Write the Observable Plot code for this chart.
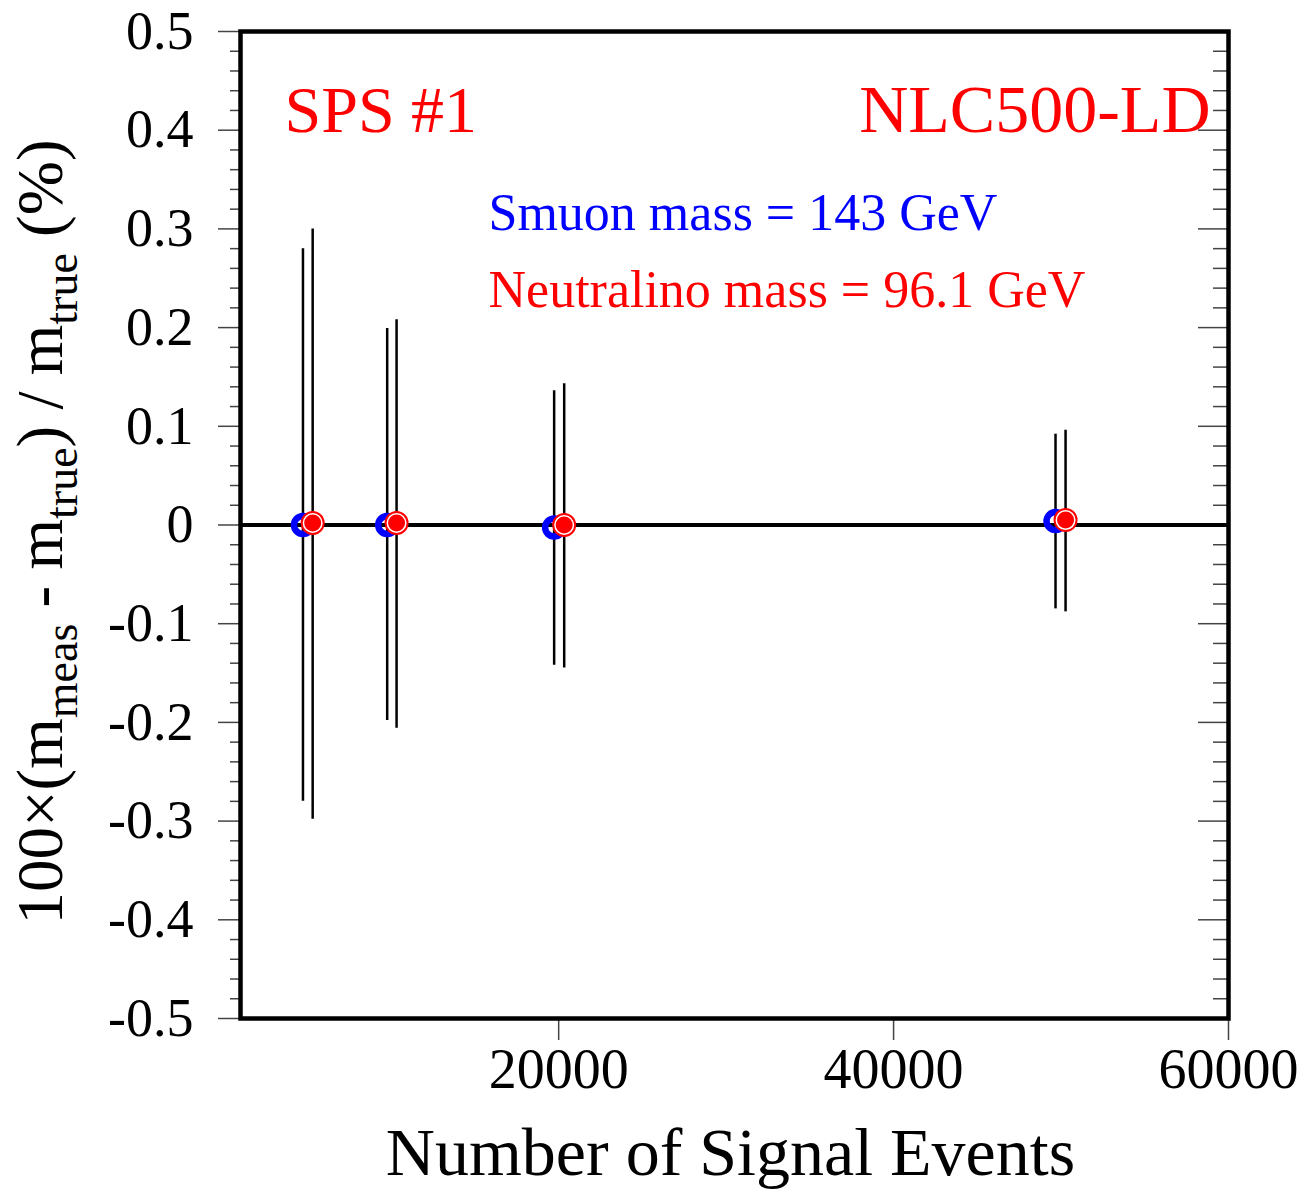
<!DOCTYPE html>
<html>
<head>
<meta charset="utf-8">
<script src="https://cdn.jsdelivr.net/npm/d3@7"></script>
<script src="https://cdn.jsdelivr.net/npm/@observablehq/plot@0.6"></script>
<style>
  html, body { margin: 0; padding: 0; background: #fff; }
  #chart svg { display: block; }
</style>
</head>
<body>
<div id="chart"></div>
<script>
// ---- data ----
const smuonX      = [4730, 9760, 19730, 49670];
const smuonDev    = [0.000, 0.000, -0.0025, 0.004];
const smuonErrLo  = [-0.280, -0.198, -0.142, -0.085];
const smuonErrHi  = [0.280, 0.199, 0.136, 0.092];

const neutX       = [5310, 10320, 20330, 50270];
const neutDev     = [0.002, 0.002, 0.000, 0.005];
const neutErrLo   = [-0.298, -0.206, -0.145, -0.088];
const neutErrHi   = [0.300, 0.208, 0.143, 0.096];

const yMajorTicks = [-0.5, -0.4, -0.3, -0.2, -0.1, 0, 0.1, 0.2, 0.3, 0.4, 0.5];
const yMinorTicks = d3.range(-50, 51, 2).filter(v => v % 10 !== 0).map(v => v / 100);
const xMajorTicks = [20000, 40000, 60000];
const xDomain = [1000, 60000];
const yDomain = [-0.5, 0.5];

const smuon = smuonX.map((x, i) => ({x, y: smuonDev[i], lo: smuonErrLo[i], hi: smuonErrHi[i]}));
const neut  = neutX.map((x, i) => ({x, y: neutDev[i], lo: neutErrLo[i], hi: neutErrHi[i]}));

const FONT = "'Liberation Serif', 'Times New Roman', serif";
const fmtY = d => (Math.abs(d) < 1e-9 ? "0" : String(+d.toFixed(1)));

const chart = Plot.plot({
  width: 1308,
  height: 1190,
  marginLeft: 240,
  marginRight: 80,
  marginTop: 31,
  marginBottom: 172,
  style: {fontFamily: FONT, background: "#fff", color: "#000"},
  x: {domain: xDomain},
  y: {domain: yDomain},
  marks: [
    // axes
    Plot.axisY({ticks: yMajorTicks, tickSize: 22, tickPadding: 25, tickFormat: fmtY,
                fontSize: 54, label: null, stroke: "#444", strokeWidth: 1.5}),
    Plot.axisY({ticks: yMinorTicks, tickSize: 10, text: null, label: null, stroke: "#444", strokeWidth: 1.5}),
    Plot.axisY({ticks: yMajorTicks, anchor: "left", frameAnchor: "right", tickSize: 30, text: null, label: null, stroke: "#444", strokeWidth: 1.5}),
    Plot.axisY({ticks: yMinorTicks, anchor: "left", frameAnchor: "right", tickSize: 15, text: null, label: null, stroke: "#444", strokeWidth: 1.5}),
    Plot.axisX({ticks: xMajorTicks, tickSize: 22, tickPadding: 8, tickFormat: d => String(d),
                fontSize: 56, label: null, stroke: "#444", strokeWidth: 1.5}),
    // error bars
    Plot.ruleX(smuon, {x: "x", y1: "lo", y2: "hi", stroke: "#000", strokeWidth: 2.5}),
    Plot.ruleX(neut,  {x: "x", y1: "lo", y2: "hi", stroke: "#000", strokeWidth: 2.5}),
    // zero line
    Plot.ruleY([0], {stroke: "#000", strokeWidth: 4}),
    // smuon: open blue circles
    Plot.dot(smuon, {x: "x", y: "y", r: 9, fill: "none", stroke: "#0000ff", strokeWidth: 6.5}),
    // neutralino: red filled dot with white ring and red outer ring
    Plot.dot(neut, {x: "x", y: "y", r: 11, fill: "#ffffff", stroke: "#ff0000", strokeWidth: 2}),
    Plot.dot(neut, {x: "x", y: "y", r: 8.5, fill: "#ff0000", stroke: "none"}),
    // frame
    Plot.frame({stroke: "#000", strokeWidth: 4.5}),
    // annotations
    Plot.text(["SPS #1"], {frameAnchor: "top-left", textAnchor: "start", lineAnchor: "bottom",
                           dx: 44, dy: 100, fontSize: 66, fill: "#ff0000"}),
    Plot.text(["NLC500-LD"], {frameAnchor: "top-right", textAnchor: "end", lineAnchor: "bottom",
                              dx: -18, dy: 100, fontSize: 68, fill: "#ff0000"}),
    Plot.text(["Smuon mass = 143 GeV"], {frameAnchor: "top-left", textAnchor: "start", lineAnchor: "bottom",
                              dx: 248, dy: 198, fontSize: 52, fill: "#0000ff"}),
    Plot.text(["Neutralino mass = 96.1 GeV"], {frameAnchor: "top-left", textAnchor: "start", lineAnchor: "bottom",
                              dx: 248, dy: 275, fontSize: 52, fill: "#ff0000"}),
    Plot.text(["Number of Signal Events"], {frameAnchor: "bottom", textAnchor: "middle", lineAnchor: "bottom",
                              dx: -4, dy: 156, fontSize: 68, fill: "#000"})
  ]
});

document.getElementById("chart").appendChild(chart);

// y-axis title with subscripts
const svg = d3.select(chart);
const t = svg.append("text")
  .attr("transform", "translate(62,532) rotate(-90)")
  .attr("text-anchor", "middle")
  .attr("font-family", FONT)
  .attr("font-size", 65)
  .attr("fill", "#000");
const parts = [
  ["100×(m", false], ["meas", true], [" - m", false], ["true", true],
  [") / m", false], ["true", true], [" (%)", false]
];
parts.forEach(([s, sub], i) => {
  const ts = t.append("tspan").text(s);
  if (sub) ts.attr("font-size", 46).attr("dy", 15);
  else if (i > 0) ts.attr("dy", -15);
});
</script>
</body>
</html>
